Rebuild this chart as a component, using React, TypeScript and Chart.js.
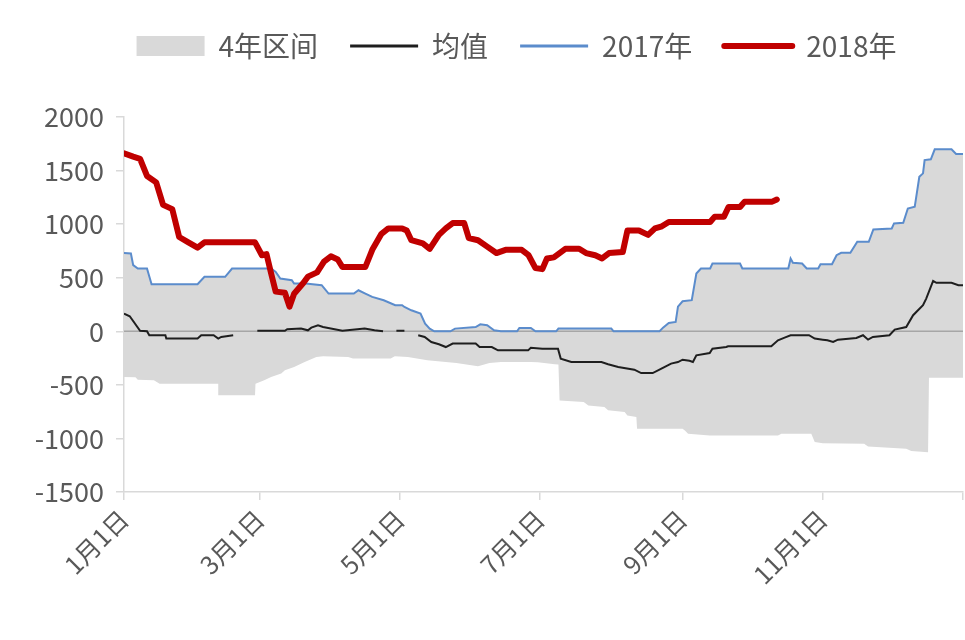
import React, { useEffect, useRef } from 'react';
import { Chart, registerables } from 'chart.js';
Chart.register(...registerables);

const FONT = '"Noto Sans CJK SC", "Noto Sans", sans-serif';
const TEXT = '#595959';

// x axis: day of year (0 = 1月1日)
const tickDays = [0, 59, 120, 181, 243, 304, 365];
const tickLabels = ['1月1日', '3月1日', '5月1日', '7月1日', '9月1日', '11月1日', ''];

const seriesNames = ['4年区间', '均值', '2017年', '2018年'];

const days2018 = [0,4,7,10,14,17,21,24,28,32,35,57,60,62,64,66,70,72,74,78,80,84,87,90,93,95,105,108,112,115,121,123,125,130,133,137,140,143,148,150,154,158,162,166,173,176,179,182,184,187,192,198,201,205,208,211,217,219,224,228,231,234,237,255,257,261,263,268,270,282,284];
const vals2018 = [1660,1630,1610,1450,1390,1180,1140,880,830,780,830,830,710,720,540,370,360,230,350,450,510,550,650,700,670,600,600,760,910,960,960,940,850,820,770,900,960,1010,1010,870,850,790,730,760,760,710,590,580,680,690,770,770,730,710,680,730,740,940,940,900,960,980,1020,1020,1070,1070,1160,1160,1210,1210,1230];

const days2017 = [0,3,4,6,10,12,32,35,44,47,64,66,68,73,74,79,86,89,100,102,105,108,113,118,121,122,125,129,131,133,135,142,144,153,155,158,161,164,171,172,177,179,188,189,212,213,233,234.5,237,240,241,243,247,249,251,255,256,268,269,289,290,291,295,297,302,303,308,310,312,316,319,324,326,334,335,339,341,344,346,347.6,348.3,351,352.7,360,362,365];
const vals2017 = [730,726,617,586,586,439,439,508,508,586,586,554,492,477,446,446,430,352,352,383,352,321,290,243,243,227,196,165,72,25,0,0,25,40,65,56,9,0,0,31,31,0,0,25,25,0,0,34,78,87,230,280,290,539,586,586,633,633,586,586,679,639,633,586,586,626,626,710,732,732,835,835,950,960,1007,1012,1146,1162,1442,1474,1598,1605,1698,1698,1654,1654];

const meanDays = [0,2.5,7,10,11,18,18.4,32,33.6,39,41,42.3,47.5,52,58,70,71,77,80,81.5,84.4,86.6,95,104.7,109,112.7,115,118.5,122,125,128,130.8,133.7,137,140,143,153,154.7,160,162.7,175.8,177,182,188.8,190,194.6,207.7,210.6,215,222,225,230,233.8,238,241,243,246,247.5,249,254.8,256,262,262.8,281.6,284.5,287.4,290,298,300.5,304,306,308.5,310.6,318.6,321.5,323.7,325.8,333,335.3,340.3,343.3,347.6,349,352,353.4,360,363,365];
const meanVals = [165,140,5,0,-37,-37,-68,-68,-37,-37,-68,-53,-37,null,5,5,19,25,9,34,56,40,5,25,9,0,null,5,5,null,-37,-53,-100,-121,-147,-115,-115,-147,-147,-178,-178,-153,-162,-162,-255,-287,-287,-308,-333,-358,-390,-390,-349,-302,-287,-265,-275,-287,-224,-203,-162,-147,-140,-140,-84,-59,-37,-37,-68,-78,-84,-100,-78,-62,-37,-78,-53,-37,16,40,150,243,305,470,452,452,430,430];

// 4-year range: upper edge follows the 2017 line, lower edge below
const rangeHighDays = days2017;
const rangeHighVals = vals2017;
const rangeLowDays = [0,5,6,13,15.5,41,41.2,57,57.2,61,64,68.4,70,74,78.6,83.7,86.6,97.5,99.6,116,117.8,123.5,132,144.6,154,159,164,177,180,187.4,189,189.5,200,202,209,210.6,217.8,219,222.9,223.2,243,244,245.4,254.8,284.5,286,299,300.5,304,322,323.7,340.3,342.5,349.8,350.2,365];
const rangeLowVals = [-427,-430,-452,-458,-489,-489,-598,-598,-489,-458,-427,-395,-364,-333,-287,-240,-234,-240,-255,-255,-234,-240,-271,-296,-327,-296,-287,-287,-290,-308,-310,-645,-660,-692,-707,-738,-754,-785,-801,-910,-910,-925,-956,-972,-972,-956,-956,-1034,-1044,-1050,-1075,-1097,-1118,-1128,-433,-433];

const toPoints = (xs: number[], ys: (number | null)[]) => xs.map((x, i) => ({ x, y: ys[i] }));

const zeroLine = {
  id: 'zeroLine',
  afterDatasetDraw(chart: any, args: any) {
    if (args.index !== 0) return;
    const { ctx, chartArea, scales } = chart;
    const y = scales.y.getPixelForValue(0);
    ctx.save();
    ctx.strokeStyle = '#a6a6a6';
    ctx.lineWidth = 1.5;
    ctx.beginPath();
    ctx.moveTo(chartArea.left, y);
    ctx.lineTo(chartArea.right, y);
    ctx.stroke();
    ctx.restore();
  },
};

const legendPlace = {
  id: 'legendPlace',
  beforeInit(chart: any) {
    const legend = chart.legend;
    if (!legend) return;
    const orig = legend.fit;
    legend.fit = function () {
      orig.call(this);
      this.height = 117;
    };
  },
  afterLayout(chart: any) {
    const legend = chart.legend;
    if (!legend) return;
    legend.left += 35;
    legend.right += 35;
  },
};

export default function App() {
  const ref = useRef<HTMLCanvasElement>(null);
  useEffect(() => {
    if (!ref.current) return;
    const base = { pointRadius: 0, pointHoverRadius: 0, tension: 0 };
    const chart = new Chart(ref.current, {
      type: 'line',
      data: {
        datasets: [
          {
            ...base,
            label: seriesNames[0],
            data: toPoints(rangeHighDays, rangeHighVals),
            borderColor: 'rgba(0,0,0,0)',
            borderWidth: 0,
            backgroundColor: '#d9d9d9',
            fill: 4,
            order: 10,
          },
          {
            ...base,
            label: seriesNames[1],
            data: toPoints(meanDays, meanVals),
            borderColor: '#1e1e1e',
            backgroundColor: '#1e1e1e',
            borderWidth: 2,
            spanGaps: false,
            fill: false,
            order: 3,
          },
          {
            ...base,
            label: seriesNames[2],
            data: toPoints(days2017, vals2017),
            borderColor: '#5b8ccc',
            backgroundColor: '#5b8ccc',
            borderWidth: 2,
            fill: false,
            order: 2,
          },
          {
            ...base,
            label: seriesNames[3],
            data: toPoints(days2018, vals2018),
            borderColor: '#c00000',
            backgroundColor: '#c00000',
            borderWidth: 6,
            borderJoinStyle: 'round',
            borderCapStyle: 'round',
            fill: false,
            order: 1,
          },
          {
            ...base,
            label: 'low',
            data: toPoints(rangeLowDays, rangeLowVals),
            borderColor: 'rgba(0,0,0,0)',
            borderWidth: 0,
            fill: false,
            order: 11,
          },
        ],
      } as any,
      options: {
        animation: false,
        responsive: false,
        maintainAspectRatio: false,
        events: [],
        layout: { padding: { left: 0, right: 2, top: 0, bottom: 0 } },
        plugins: {
          tooltip: { enabled: false },
          legend: {
            position: 'top',
            labels: {
              usePointStyle: true,
              pointStyleWidth: 68,
              boxHeight: 20,
              padding: 32,
              color: TEXT,
              font: { size: 28, family: FONT },
              filter: (item: any) => item.datasetIndex <= 3,
              sort: (a: any, b: any) => a.datasetIndex - b.datasetIndex,
              generateLabels: (chart: any) => {
                const items = Chart.defaults.plugins.legend.labels.generateLabels(chart);
                return items.map((it: any) => {
                  if (it.datasetIndex === 0) {
                    return { ...it, pointStyle: 'rect', fillStyle: '#d9d9d9', strokeStyle: 'rgba(0,0,0,0)', lineWidth: 0 };
                  }
                  if (it.datasetIndex === 3) {
                    return { ...it, pointStyle: 'line', lineCap: 'round', lineWidth: 6 };
                  }
                  return { ...it, pointStyle: 'line', lineCap: 'butt', lineWidth: 3 };
                });
              },
            },
          },
        },
        scales: {
          x: {
            type: 'linear',
            min: 0,
            max: 365,
            afterBuildTicks: (s: any) => {
              s.ticks = tickDays.map((v) => ({ value: v }));
            },
            afterFit: (s: any) => {
              s.height = 148;
              s.paddingRight = 0;
            },
            ticks: {
              autoSkip: false,
              maxRotation: 45,
              minRotation: 45,
              color: TEXT,
              padding: 4,
              font: { size: 25, family: FONT },
              callback: (_v: any, i: number) => tickLabels[i],
            },
            grid: { drawOnChartArea: false, tickLength: 8, tickColor: '#d9d9d9', lineWidth: 1.5 },
            border: { color: '#d9d9d9', width: 1.5 },
          },
          y: {
            min: -1500,
            max: 2000,
            afterFit: (s: any) => {
              s.width = 124;
            },
            ticks: {
              stepSize: 500,
              color: TEXT,
              padding: 12,
              font: { size: 27, family: FONT },
              callback: (v: any) => String(v),
            },
            grid: { drawOnChartArea: false, tickLength: 8, tickColor: '#d9d9d9', lineWidth: 1.5 },
            border: { color: '#d9d9d9', width: 1.5 },
          },
        },
      } as any,
      plugins: [zeroLine, legendPlace],
    });
    return () => chart.destroy();
  }, []);
  return (
    <div style={{ position: 'fixed', left: 0, top: 0, width: 965, height: 640, background: '#fff' }}>
      <canvas ref={ref} width={965} height={640} style={{ width: 965, height: 640 }} />
    </div>
  );
}
